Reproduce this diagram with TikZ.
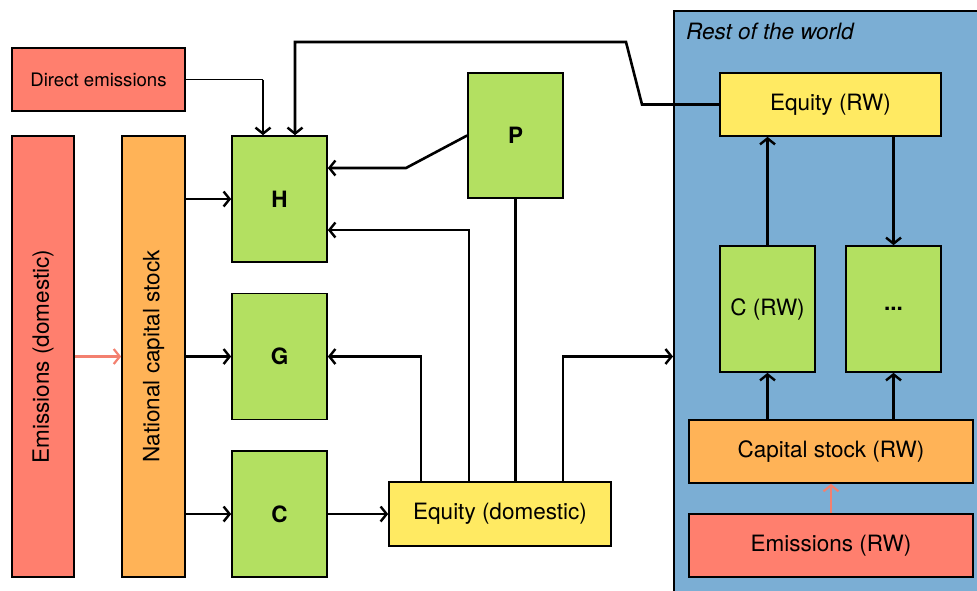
\documentclass[tikz,border=0pt]{standalone}
\usepackage{fontspec}
\setmainfont{TeX Gyre Heros}
\usetikzlibrary{arrows.meta}
\definecolor{cred}{HTML}{FF7F6E}
\definecolor{corange}{HTML}{FFB357}
\definecolor{cgreen}{HTML}{B3E061}
\definecolor{cyellow}{HTML}{FFEA62}
\definecolor{cblue}{HTML}{7BAED4}
\definecolor{cpink}{HTML}{F3806F}
\tikzset{
  box/.style={draw=black, line width=1.7pt, inner sep=0pt, font=\fontsize{22.5}{26}\selectfont},
  greenbox/.style={box, fill=cgreen, minimum width=95pt, minimum height=126pt},
  arr/.style={line width=2.6pt, -{Straight Barb[length=6pt,width=15pt,line width=2.4pt]}},
  pinkarr/.style={draw=cpink, line width=2.3pt, -{Straight Barb[length=6pt,width=15pt,line width=2.2pt]}},
  plain/.style={line width=2.6pt},
}
\begin{document}
\begin{tikzpicture}[x=1pt,y=-1pt]
\useasboundingbox (0,0) rectangle (977,590);
\clip (0,0) rectangle (977,590);
\fill[white] (0,0) rectangle (977,590);
% Rest of the world panel
\node[draw=black, line width=1.7pt, fill=cblue, anchor=north west, minimum width=330pt, minimum height=610pt, inner sep=0pt] (rw) at (673,10) {};
\node[anchor=west, font=\fontsize{22.5}{26}\selectfont\itshape, inner sep=0pt] (rwlabel) at (686,31) {Rest of the world};
% domestic side
\node[box, fill=cred, minimum width=173pt, minimum height=63pt, font=\fontsize{18.6}{22}\selectfont] (dir) at (98.5,79.5) {Direct emissions};
\node[box, fill=cred, minimum width=62pt, minimum height=441pt] (emd) at (43,356.5) {};
\node[font=\fontsize{22.5}{26}\selectfont, rotate=90, inner sep=0pt] (emdt) at (emd.center) {Emissions (domestic)};
\node[box, fill=corange, minimum width=63pt, minimum height=441pt] (ncs) at (153.5,356.5) {};
\node[font=\fontsize{22.5}{26}\selectfont, rotate=90, inner sep=0pt] (ncst) at (ncs.center) {National capital stock};
\node[greenbox, font=\fontsize{22.5}{26}\selectfont\bfseries] (h) at (279.5,199) {H};
\node[greenbox, font=\fontsize{22.5}{26}\selectfont\bfseries] (g) at (279.5,356.5) {G};
\node[greenbox, font=\fontsize{22.5}{26}\selectfont\bfseries] (c) at (279.5,514) {C};
\node[greenbox, minimum height=125pt, font=\fontsize{22.5}{26}\selectfont\bfseries] (p) at (515.5,135.5) {P};
\node[box, fill=cyellow, minimum width=222pt, minimum height=64pt] (eqd) at (500,514) {Equity (domestic)};
% RW side
\node[box, fill=cyellow, minimum width=221pt, minimum height=63pt] (eqrw) at (830.5,104.5) {Equity (RW)};
\node[greenbox] (crw) at (767.5,309) {C (RW)};
\node[greenbox, font=\fontsize{22.5}{26}\selectfont\bfseries] (dots) at (893.5,309) {...};
\node[box, fill=corange, minimum width=284pt, minimum height=63pt] (csrw) at (831,451.5) {Capital stock (RW)};
\node[box, fill=cred, minimum width=284pt, minimum height=63pt] (emrw) at (831,545.5) {Emissions (RW)};
% coordinates
\coordinate (hA) at ([xshift=-16.5pt]h.north);
\coordinate (hB) at ([xshift=15.5pt]h.north);
\coordinate (hP) at ([yshift=31pt]h.east);
\coordinate (hE) at ([yshift=-31pt]h.east);
\coordinate (pbend) at (406,168);
\coordinate (rwb1) at (642,104.5);
\coordinate (rwb2) at (626,42);
\coordinate (rwb3) at (295,42);
\coordinate (eq1) at ([xshift=-79pt]eqd.north);
\coordinate (eq2) at ([xshift=-31pt]eqd.north);
\coordinate (eq4) at ([xshift=63pt]eqd.north);
% connectors
\draw[line width=1.1pt] (dir.east) -- (dir.east -| hA);
\draw[arr] (dir.east -| hA) -- (hA);
\draw[arr] (eqrw.west) -- (rwb1) -- (rwb2) -- (rwb3 -| hB) -- (hB);
\draw[arr] (p.west) -- (pbend) -- (hP);
\draw[pinkarr] (emd.east) -- (ncs.west);
\draw[arr] (ncs.east |- h.west) -- (h.west);
\draw[arr] (ncs.east |- g.west) -- (g.west);
\draw[arr] (ncs.east |- c.west) -- (c.west);
\draw[arr] (c.east) -- (eqd.west);
\draw[arr] (eq1) |- (g.east);
\draw[arr] (eq2) |- (hE);
\draw[plain] (eqd.north -| p.south) -- (p.south);
\draw[arr] (eq4) |- (rw.west |- g.east);
\draw[arr] (crw.north) -- (crw.north |- eqrw.south);
\draw[arr] (eqrw.south -| dots.north) -- (dots.north);
\draw[arr] (csrw.north -| crw.south) -- (crw.south);
\draw[arr] (csrw.north -| dots.south) -- (dots.south);
\draw[pinkarr] (emrw.north) -- (csrw.south);
\end{tikzpicture}
\end{document}
